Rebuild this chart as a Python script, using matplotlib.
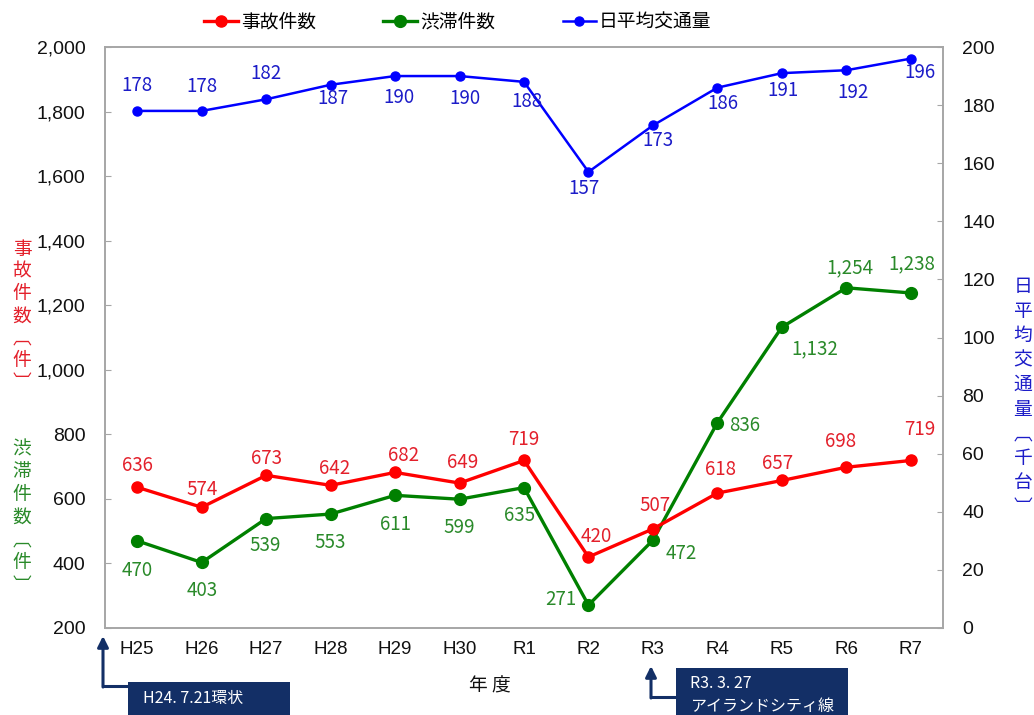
import matplotlib
matplotlib.use("Agg")
import matplotlib.pyplot as plt
from matplotlib.patches import FancyArrowPatch, Rectangle
from matplotlib.lines import Line2D

plt.rcParams['font.family'] = ['Noto Sans CJK JP', 'DejaVu Sans']

# ---- data ----
years = ["H25", "H26", "H27", "H28", "H29", "H30", "R1", "R2", "R3", "R4", "R5", "R6", "R7"]
accidents = [636, 574, 673, 642, 682, 649, 719, 420, 507, 618, 657, 698, 719]
congestion = [470, 403, 539, 553, 611, 599, 635, 271, 472, 836, 1132, 1254, 1238]
traffic = [178, 178, 182, 187, 190, 190, 188, 157, 173, 186, 191, 192, 196]
left_ticks = [200, 400, 600, 800, 1000, 1200, 1400, 1600, 1800, 2000]
right_ticks = [0, 20, 40, 60, 80, 100, 120, 140, 160, 180, 200]
legend_names = ["事故件数", "渋滞件数", "日平均交通量"]

# label offsets (pixels)
acc_off = [(0, 22), (0, 18), (0, 17), (4, 17), (8, 17), (3, 21), (0, 21), (8, 20), (2, 23), (3, 24), (-4, 17), (-6, 26), (9, 31)]
con_off = [(0, -30), (0, -28), (-1, -27), (0, -28), (0, -29), (0, -28), (-4, -28), (-28, 6), (28, -13), (27, -3), (33, -22), (4, 20), (1, 29)]
tra_off = [(0, 25), (0, 24), (0, 26), (2, -14), (4, -21), (5, -22), (3, -20), (-4, -17), (5, -15), (5, -16), (1, -17), (7, -22), (9, -14)]

RED, GREEN, BLUE = '#FF0000', '#008000', '#0000FF'
RED_T, GREEN_T, BLUE_T = '#E3202B', '#2A8A2A', '#1C1CC8'
NAVY = '#132F66'
W, H = 1034, 715

def px(x, y):
    return (x / W, 1 - y / H)

fig = plt.figure(figsize=(W / 100, H / 100), dpi=100)
ax = fig.add_axes([105 / W, 1 - 628 / H, (943 - 105) / W, (628 - 47) / H])
ax2 = ax.twinx()

x = list(range(len(years)))
l1, = ax.plot(x, accidents, color=RED, lw=2.4, marker='o', ms=8, zorder=4)
l2, = ax.plot(x, congestion, color=GREEN, lw=2.4, marker='o', ms=8.5, zorder=3)
l3, = ax2.plot(x, traffic, color=BLUE, lw=1.8, marker='o', ms=6.5, zorder=3)

for i in x:
    ax.annotate(f"{accidents[i]:,}", (i, accidents[i]), xytext=acc_off[i], textcoords='offset pixels',
                ha='center', va='center', color=RED_T, fontsize=13.5, zorder=6)
    ax.annotate(f"{congestion[i]:,}", (i, congestion[i]), xytext=con_off[i], textcoords='offset pixels',
                ha='center', va='center', color=GREEN_T, fontsize=13.5, zorder=6)
    ax2.annotate(f"{traffic[i]:,}", (i, traffic[i]), xytext=tra_off[i], textcoords='offset pixels',
                 ha='center', va='center', color=BLUE_T, fontsize=13.5, zorder=6)

ax.set_xlim(-0.5, len(years) - 0.5)
ax.set_ylim(200, 2000)
ax2.set_ylim(0, 200)
ax.set_yticks(left_ticks)
ax.set_yticklabels([f"{v:,}" for v in left_ticks], family=['Liberation Sans', 'DejaVu Sans'], fontsize=14)
ax2.set_yticks(right_ticks)
ax2.set_yticklabels([str(v) for v in right_ticks], family=['Liberation Sans', 'DejaVu Sans'], fontsize=14)
ax.set_xticks(x)
ax.set_xticklabels(years, family=['Liberation Sans', 'DejaVu Sans'], fontsize=13.5)

for a in (ax, ax2):
    for s in a.spines.values():
        s.set_color('#A6A6A6')
        s.set_linewidth(1.2)
ax.tick_params(axis='y', direction='in', length=4, color='#A6A6A6', pad=14, labelcolor='#111111')
ax2.tick_params(axis='y', direction='in', length=4, color='#A6A6A6', pad=14, labelcolor='#111111')
ax.tick_params(axis='x', length=0, pad=9, labelcolor='#111111')

# legend
fig.legend([l1, l2, l3], legend_names, loc='center', bbox_to_anchor=(px(458, 22)), ncol=3, frameon=False,
           fontsize=13.5, handlelength=1.8, handletextpad=0.15, columnspacing=3.6)

# vertical axis titles, one stacked text each (vertical-form brackets ︹ ︺)
fig.text(*px(22, 316), "\n".join("事故件数︹件︺"), color=RED_T, fontsize=13.5,
         ha='center', va='center', multialignment='center', linespacing=1.08)
fig.text(*px(22, 517), "\n".join("渋滞件数︹件︺"), color=GREEN_T, fontsize=13.5,
         ha='center', va='center', multialignment='center', linespacing=1.11)
fig.text(*px(1023, 397), "\n".join("日平均交通量︹千台︺"), color=BLUE_T, fontsize=13.5,
         ha='center', va='center', multialignment='center', linespacing=1.22)

fig.text(*px(490, 686), "年 度", fontsize=13.5, ha='center', va='center', color='#111111')

# annotation boxes
fig.add_artist(Rectangle(px(128, 715), (290 - 128) / W, (715 - 682) / H, transform=fig.transFigure,
                         facecolor=NAVY, edgecolor='none'))
fig.text(*px(143, 698), "H24. 7.21環状", color='white', fontsize=11.5, ha='left', va='center')
fig.add_artist(Rectangle(px(676, 715), (848 - 676) / W, (715 - 668) / H, transform=fig.transFigure,
                         facecolor=NAVY, edgecolor='none'))
fig.text(*px(690, 684), "R3. 3. 27", color='white', fontsize=11.5, ha='left', va='center')
fig.text(*px(690, 706), "アイランドシティ線", color='white', fontsize=11.5, ha='left', va='center')

for (xv, ytop, ybot, xr) in [(103, 636, 686, 128), (651, 666, 697, 676)]:
    fig.add_artist(Line2D([xv / W, xr / W], [1 - ybot / H, 1 - ybot / H], transform=fig.transFigure,
                          color=NAVY, lw=2.2))
    fig.add_artist(FancyArrowPatch(px(xv, ybot + 1), px(xv, ytop), transform=fig.transFigure,
                                   arrowstyle='-|>', mutation_scale=16, color=NAVY, lw=2.2,
                                   shrinkA=0, shrinkB=0))

fig.savefig("out.png", dpi=100)
